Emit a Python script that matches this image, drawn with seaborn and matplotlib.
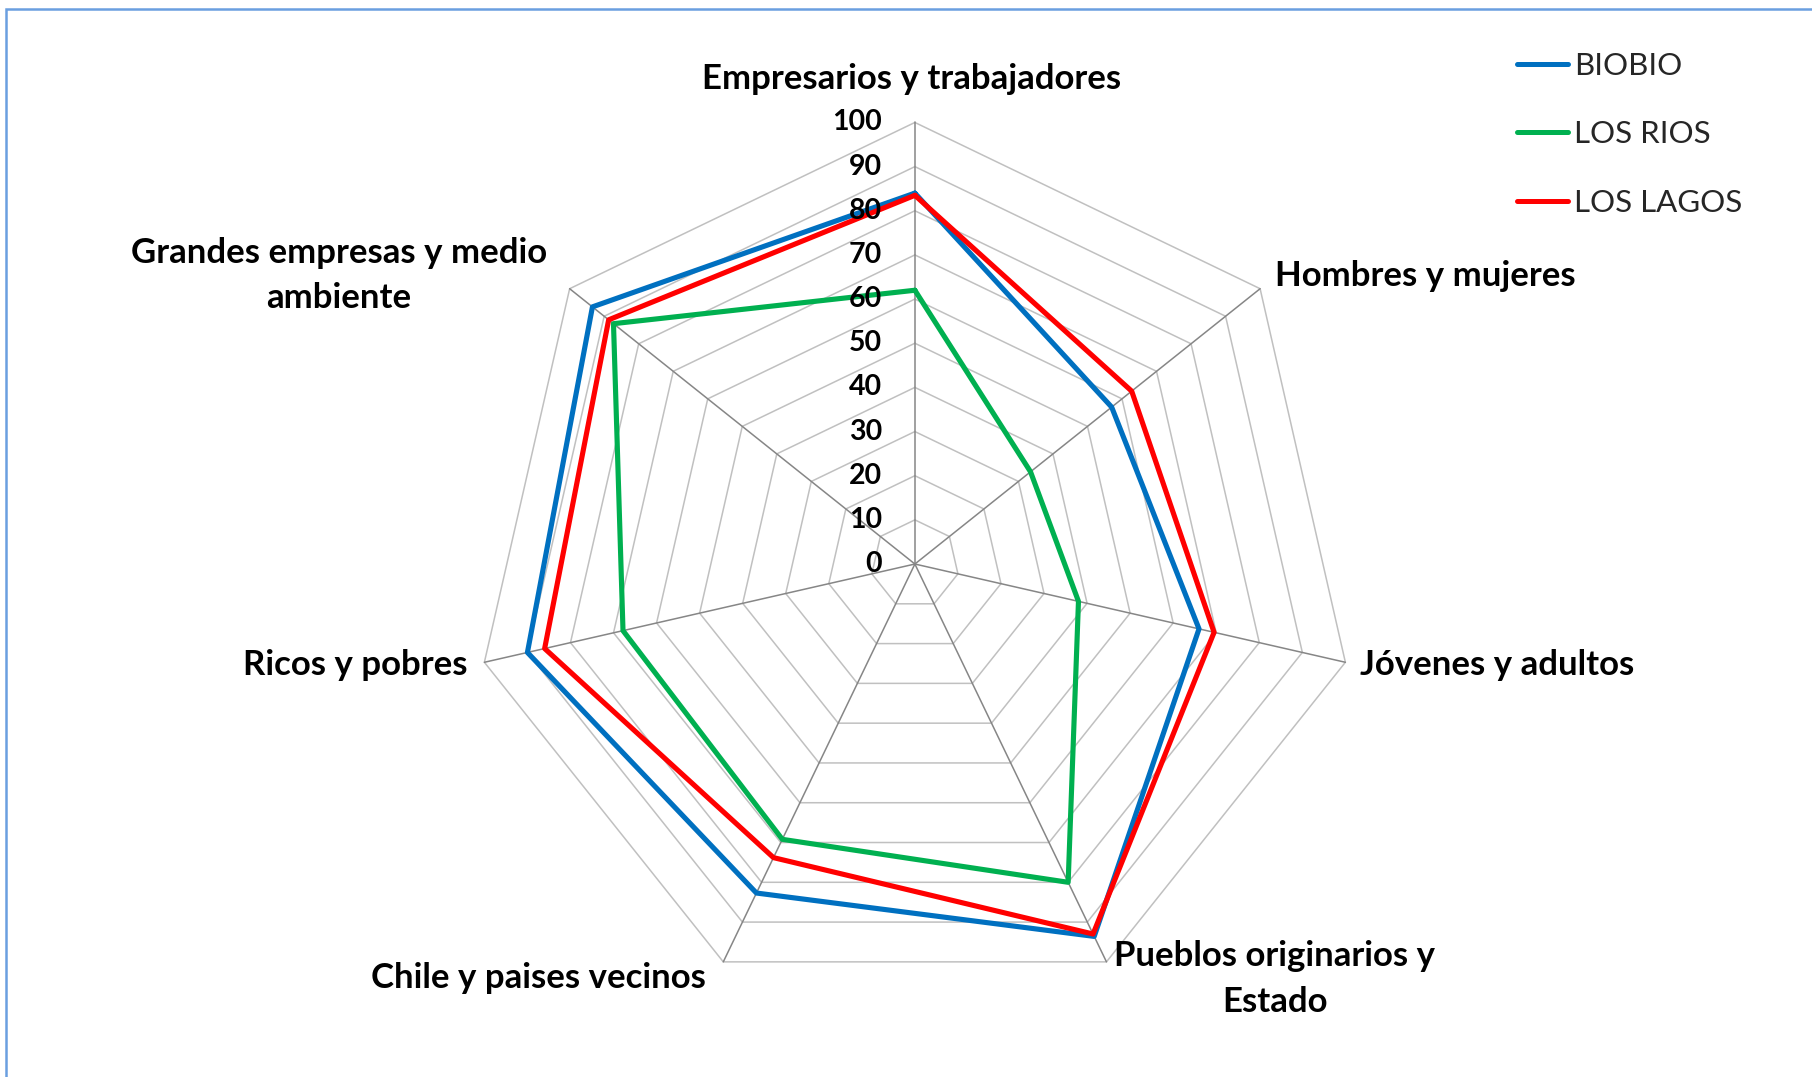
import numpy as np
import pandas as pd
import matplotlib
matplotlib.use("Agg")
import matplotlib.pyplot as plt
import seaborn as sns
from matplotlib.lines import Line2D
from matplotlib.patches import Rectangle

# data
categories = ["Empresarios y trabajadores", "Hombres y mujeres", "Jóvenes y adultos",
              "Pueblos originarios y\nEstado", "Chile y paises vecinos", "Ricos y pobres",
              "Grandes empresas y medio\nambiente"]
regions = ["BIOBIO", "LOS RIOS", "LOS LAGOS"]
biobio = [84.0, 57.0, 66.0, 93.6, 82.7, 90.0, 93.4]
los_rios = [62.0, 33.5, 38.0, 80.0, 69.2, 67.8, 87.3]
los_lagos = [83.5, 62.8, 69.5, 93.0, 73.8, 86.0, 88.7]
levels = [0, 10, 20, 30, 40, 50, 60, 70, 80, 90, 100]
colors = ["#0070C0", "#00B050", "#FF0000"]

sns.set_style("white")
plt.rcParams["font.family"] = ["Lato", "DejaVu Sans"]

n = len(categories)
theta = np.linspace(0, 2 * np.pi, n, endpoint=False)
theta_closed = np.append(theta, 2 * np.pi)

# long-form table, each series closed back to its first point
rows = []
for reg, vals in zip(regions, [biobio, los_rios, los_lagos]):
    for t, v in zip(theta_closed, vals + [vals[0]]):
        rows.append({"region": reg, "theta": t, "value": v})
df = pd.DataFrame(rows)

fig = plt.figure(figsize=(18.12, 10.77), dpi=100)
ax = fig.add_axes([0.2612, 0.0663, 0.4874, 0.8200], projection="polar")
ax.set_theta_zero_location("N")
ax.set_theta_direction(-1)
ax.set_ylim(0, 100)
ax.grid(False)
ax.spines["polar"].set_visible(False)
ax.set_xticks([])
ax.set_yticks([])
ax.patch.set_visible(False)

# polygon grid and spokes
for lvl in levels[1:]:
    ax.plot(theta_closed, [lvl] * (n + 1), color="#c0c0c0", lw=1.1, zorder=1, clip_on=False)
for t in theta:
    ax.plot([t, t], [0, 100], color="#868686", lw=1.1, zorder=1.5, clip_on=False)

sns.lineplot(data=df, x="theta", y="value", hue="region", hue_order=regions,
             palette=colors, sort=False, estimator=None, linewidth=3.7,
             legend=False, ax=ax)
for ln in ax.lines:
    ln.set_clip_on(False)
ax.set_xlabel("")
ax.set_ylabel("")

# radial value labels
for lvl in levels:
    ax.annotate(str(lvl), xy=(0, lvl), xytext=(-33, 0), textcoords="offset pixels",
                ha="right", va="center", fontsize=20.5, fontweight="bold", color="black")

# category labels: (dx, dy) pixel offsets from the 100 vertex and alignment
label_pos = [(-3, 43, "center"), (15, 13, "left"), (15, -3, "left"), (8, -17, "left"),
             (-17, -16, "right"), (-17, -3, "right"), (-23, 13, "right")]
for t, lab, (dx, dy, ha) in zip(theta, categories, label_pos):
    ax.annotate(lab, xy=(t, 100), xytext=(dx, dy), textcoords="offset pixels",
                ha=ha, va="center", multialignment="center", fontsize=25,
                fontweight="bold", color="black", linespacing=1.52)

handles = [Line2D([0], [0], color=c, lw=3.6, solid_capstyle="round") for c in colors]
fig.legend(handles, regions, loc="upper left", bbox_to_anchor=(0.837, 0.952),
           frameon=False, fontsize=22.5, handlelength=1.65, handletextpad=0.2,
           labelspacing=1.3, borderpad=0, borderaxespad=0)

# outer frame (cut at right and bottom as in the source)
fig.add_artist(Rectangle((5.7 / 1812, -0.1), 1.2, 1.1 - 8.7 / 1077,
                         transform=fig.transFigure, fill=False,
                         edgecolor="#6a9fe0", lw=1.8))

fig.savefig("out.png", dpi=100)
